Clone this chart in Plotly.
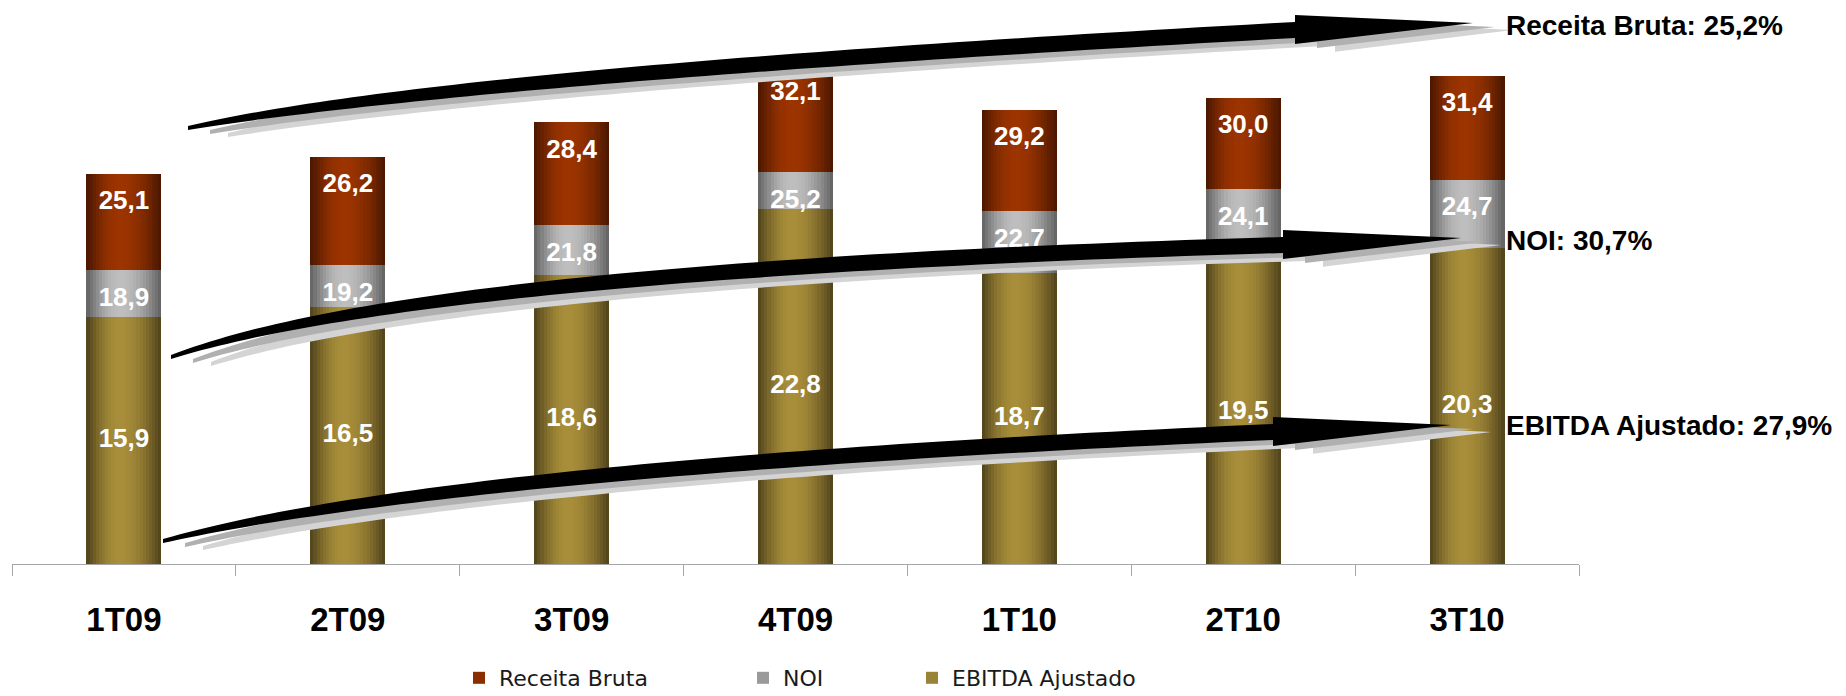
import numpy as np
import plotly.graph_objects as go

# ---------------- data ----------------
categories = ["1T09", "2T09", "3T09", "4T09", "1T10", "2T10", "3T10"]
receita_bruta = [25.1, 26.2, 28.4, 32.1, 29.2, 30.0, 31.4]
noi = [18.9, 19.2, 21.8, 25.2, 22.7, 24.1, 24.7]
ebitda_ajustado = [15.9, 16.5, 18.6, 22.8, 18.7, 19.5, 20.3]
series_names = ["Receita Bruta", "NOI", "EBITDA Ajustado"]
growth_labels = ["Receita Bruta: 25,2%", "NOI: 30,7%", "EBITDA Ajustado: 27,9%"]


def fmt(vals):
    return [f"{v:.1f}".replace(".", ",") for v in vals]


receita_text = fmt(receita_bruta)
noi_text = fmt(noi)
noi_text[4] = noi_text[4].replace(",", ".")  # the source prints this one with a point
ebitda_text = fmt(ebitda_ajustado)

# ---------------- layout geometry ----------------
W, H = 1846, 696
ML, MR, MT, MB = 12, 267, 10, 132
PW, PH = W - ML - MR, H - MT - MB
PX_PER_UNIT = 15.55
Y_MAX = PH / PX_PER_UNIT
BW = 0.335
K = 24

styles = {
    "Receita Bruta": dict(dark=(66, 20, 0), bright=(156, 52, 0), base="#8a2d00"),
    "NOI": dict(dark=(88, 88, 88), bright=(190, 190, 190), base="#9a9a9a"),
    "EBITDA Ajustado": dict(dark=(72, 60, 24), bright=(168, 142, 58), base="#9a8236"),
}


def shade(dark, bright, u, peak=0.45):
    if u <= peak:
        f = np.cos(np.pi / 2 * (peak - u) / peak * 0.95)
    else:
        f = np.cos(np.pi / 2 * (u - peak) / (1 - peak) * 0.95)
    c = [int(round(d + (b - d) * f)) for d, b in zip(dark, bright)]
    return f"rgb({c[0]},{c[1]},{c[2]})"


fig = go.Figure()

legend_ids = ["legend", "legend2", "legend3"]
for name, vals, lg in zip(series_names, [receita_bruta, noi, ebitda_ajustado], legend_ids):
    st = styles[name]
    fig.add_trace(go.Bar(
        x=categories, y=vals, name=name, width=[BW] * len(vals),
        marker=dict(color=st["base"], line=dict(width=0)),
        legend=lg, showlegend=True, hoverinfo="skip",
    ))
    step = BW / K
    for i in range(K):
        u = (i + 0.5) / K
        fig.add_trace(go.Bar(
            x=categories, y=vals,
            width=[BW - i * step] * len(vals),
            offset=[-BW / 2 + i * step] * len(vals),
            marker=dict(color=shade(st["dark"], st["bright"], u), line=dict(width=0)),
            showlegend=False, hoverinfo="skip",
        ))

# value labels (white, bold)
LABEL_DROP = 29 / PX_PER_UNIT
label_font = dict(family="Liberation Sans, Arial", size=26, color="white", weight="bold")
fig.add_trace(go.Scatter(x=categories, y=[v - LABEL_DROP for v in receita_bruta], text=receita_text,
                         mode="text", textposition="middle center", textfont=label_font,
                         showlegend=False, hoverinfo="skip", cliponaxis=False))
fig.add_trace(go.Scatter(x=categories, y=[v - LABEL_DROP for v in noi], text=noi_text,
                         mode="text", textposition="middle center", textfont=label_font,
                         showlegend=False, hoverinfo="skip", cliponaxis=False))
fig.add_trace(go.Scatter(x=categories, y=[v / 2 for v in ebitda_ajustado], text=ebitda_text,
                         mode="text", textposition="middle center", textfont=label_font,
                         showlegend=False, hoverinfo="skip", cliponaxis=False))


# ---------------- decorative growth arrows ----------------
def to_paper(px, py):
    return (px - ML) / PW, (MT + PH - py) / PH


def arrow_path(p0, p1, p2, dx=0.0, dy=0.0, head_len=178, n=70, grow=1.0):
    t = np.linspace(0, 1, n)
    x = (1 - t) ** 2 * p0[0] + 2 * t * (1 - t) * p1[0] + t ** 2 * p2[0]
    y = (1 - t) ** 2 * p0[1] + 2 * t * (1 - t) * p1[1] + t ** 2 * p2[1]
    th = (4 + 12 * (1 - (1 - t) ** 3)) * grow
    up = y - th / 2
    lo = y + th / 2
    xb, yb = p2
    pts = list(zip(x, up)) + [(xb, yb - 15 * grow), (xb + head_len, yb - 7), (xb, yb + 14 * grow)] + \
        list(zip(x[::-1], lo[::-1]))
    segs = []
    for k, (px, py) in enumerate(pts):
        a, b = to_paper(px + dx, py + dy)
        segs.append(("M" if k == 0 else "L") + f"{a:.5f},{b:.5f}")
    return " ".join(segs) + " Z"


arrows = [
    ((188, 128), (450, 76), (1295, 30)),
    ((171, 357), (420, 270), (1283, 245)),
    ((163, 541), (450, 468), (1273, 432)),
]
shapes = []
for p0, p1, p2 in arrows:
    for dx, dy, col, g in [(40, 7, "#d4d4d4", 1.05), (22, 4, "#b0b0b0", 1.0), (0, 0, "#000000", 1.0)]:
        shapes.append(dict(type="path", xref="paper", yref="paper", layer="above",
                           path=arrow_path(p0, p1, p2, dx, dy, grow=g),
                           fillcolor=col, line=dict(width=0)))

annotations = []
for txt, py in zip(growth_labels, [25, 240, 425]):
    xa, ya = to_paper(1504, py)
    annotations.append(dict(text=txt, x=xa, y=ya, xref="paper", yref="paper",
                            xanchor="left", yanchor="middle", showarrow=False,
                            font=dict(family="Liberation Sans, Arial", size=28,
                                      color="black", weight="bold")))

# legends (one per series, placed independently)
leg_font = dict(family="DejaVu Sans", size=22, color="#1a1a1a")
legend_pos = [459, 743, 912]
legs = {}
for lg, lx in zip(legend_ids, legend_pos):
    xa, ya = to_paper(lx, 678)
    legs[lg] = dict(x=xa, y=ya, xanchor="left", yanchor="middle", orientation="h",
                    font=leg_font, bgcolor="rgba(0,0,0,0)", borderwidth=0)

fig.update_layout(
    width=W, height=H,
    margin=dict(l=ML, r=MR, t=MT, b=MB, autoexpand=False),
    paper_bgcolor="white", plot_bgcolor="white",
    barmode="overlay", bargap=0,
    shapes=shapes, annotations=annotations,
    hovermode=False,
    **legs,
)
fig.update_xaxes(
    type="category", range=[-0.5, 6.5], showgrid=False, zeroline=False,
    showline=True, linecolor="#a6a6a6", linewidth=1,
    ticks="outside", tickson="boundaries", ticklen=11, tickcolor="#a6a6a6", tickwidth=1,
    tickfont=dict(family="Liberation Sans, Arial", size=33, color="black", weight="bold"),
    ticklabelstandoff=26, fixedrange=True, automargin=False,
)
fig.update_yaxes(range=[0, Y_MAX], visible=False, fixedrange=True, automargin=False)

fig.write_html("out.html", config={"displayModeBar": False},
               post_script="document.body.style.margin='0px';document.body.style.overflow='hidden';")
